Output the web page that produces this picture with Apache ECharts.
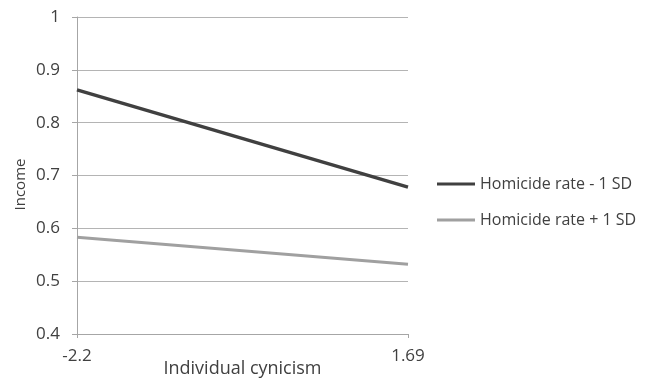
<!DOCTYPE html>
<html>
<head>
<meta charset="utf-8">
<script src="https://cdn.jsdelivr.net/npm/echarts@6/dist/echarts.min.js"></script>
<style>
  html, body { margin: 0; padding: 0; background: #fff; }
  #chart { width: 652px; height: 379px; }
</style>
</head>
<body>
<div id="chart"></div>
<script>
  // x categories: individual cynicism at -1 SD / +1 SD
  var cynicism = ['-2.2', '1.69'];
  var lowHomicide = [0.862, 0.678];   // Homicide rate - 1 SD
  var highHomicide = [0.583, 0.532];  // Homicide rate + 1 SD
  var seriesNames = ['Homicide rate - 1 SD', 'Homicide rate + 1 SD'];

  var txt = '#404040';
  var font = '"Open Sans", "Liberation Sans", sans-serif';

  var chart = echarts.init(document.getElementById('chart'));
  chart.setOption({
    animation: false,
    grid: { left: 77, right: 244, top: 17, bottom: 45, containLabel: false, outerBoundsMode: 'none' },
    legend: {
      data: seriesNames,
      orient: 'vertical',
      left: 437,
      top: 176,
      padding: 0,
      itemWidth: 38,
      itemHeight: 3,
      itemGap: 20,
      icon: 'rect',
      textStyle: { color: txt, fontSize: 16, fontFamily: font }
    },
    xAxis: {
      type: 'category',
      data: cynicism,
      boundaryGap: false,
      name: 'Individual cynicism',
      nameLocation: 'middle',
      nameGap: 26,
      nameMoveOverlap: false,
      nameTextStyle: { color: txt, fontSize: 18, fontFamily: font },
      axisLine: { lineStyle: { color: '#a6a6a6', width: 1 } },
      axisTick: { show: true, length: 4, lineStyle: { color: '#a6a6a6' } },
      axisLabel: { color: txt, fontSize: 17, fontFamily: font, margin: 14 }
    },
    yAxis: {
      type: 'value',
      min: 0.4,
      max: 1,
      interval: 0.1,
      name: 'Income',
      nameLocation: 'middle',
      nameGap: 49,
      nameMoveOverlap: false,
      nameTextStyle: { color: txt, fontSize: 15, fontFamily: font, padding: [0, 18, 0, 0] },
      axisLine: { show: true, lineStyle: { color: '#a6a6a6', width: 1 } },
      axisTick: { show: true, length: 5, lineStyle: { color: '#a6a6a6' } },
      axisLabel: {
        color: txt, fontSize: 17, fontFamily: font, margin: 17,
        formatter: function (v) { return String(Math.round(v * 10) / 10); }
      },
      splitLine: { lineStyle: { color: '#b4b4b4', width: 1 } }
    },
    series: [
      {
        name: seriesNames[0],
        type: 'line',
        data: lowHomicide,
        symbol: 'none',
        itemStyle: { color: '#404040' },
        lineStyle: { color: '#404040', width: 3.5 }
      },
      {
        name: seriesNames[1],
        type: 'line',
        data: highHomicide,
        symbol: 'none',
        itemStyle: { color: '#a0a0a0' },
        lineStyle: { color: '#a0a0a0', width: 3 }
      }
    ]
  });
</script>
</body>
</html>
